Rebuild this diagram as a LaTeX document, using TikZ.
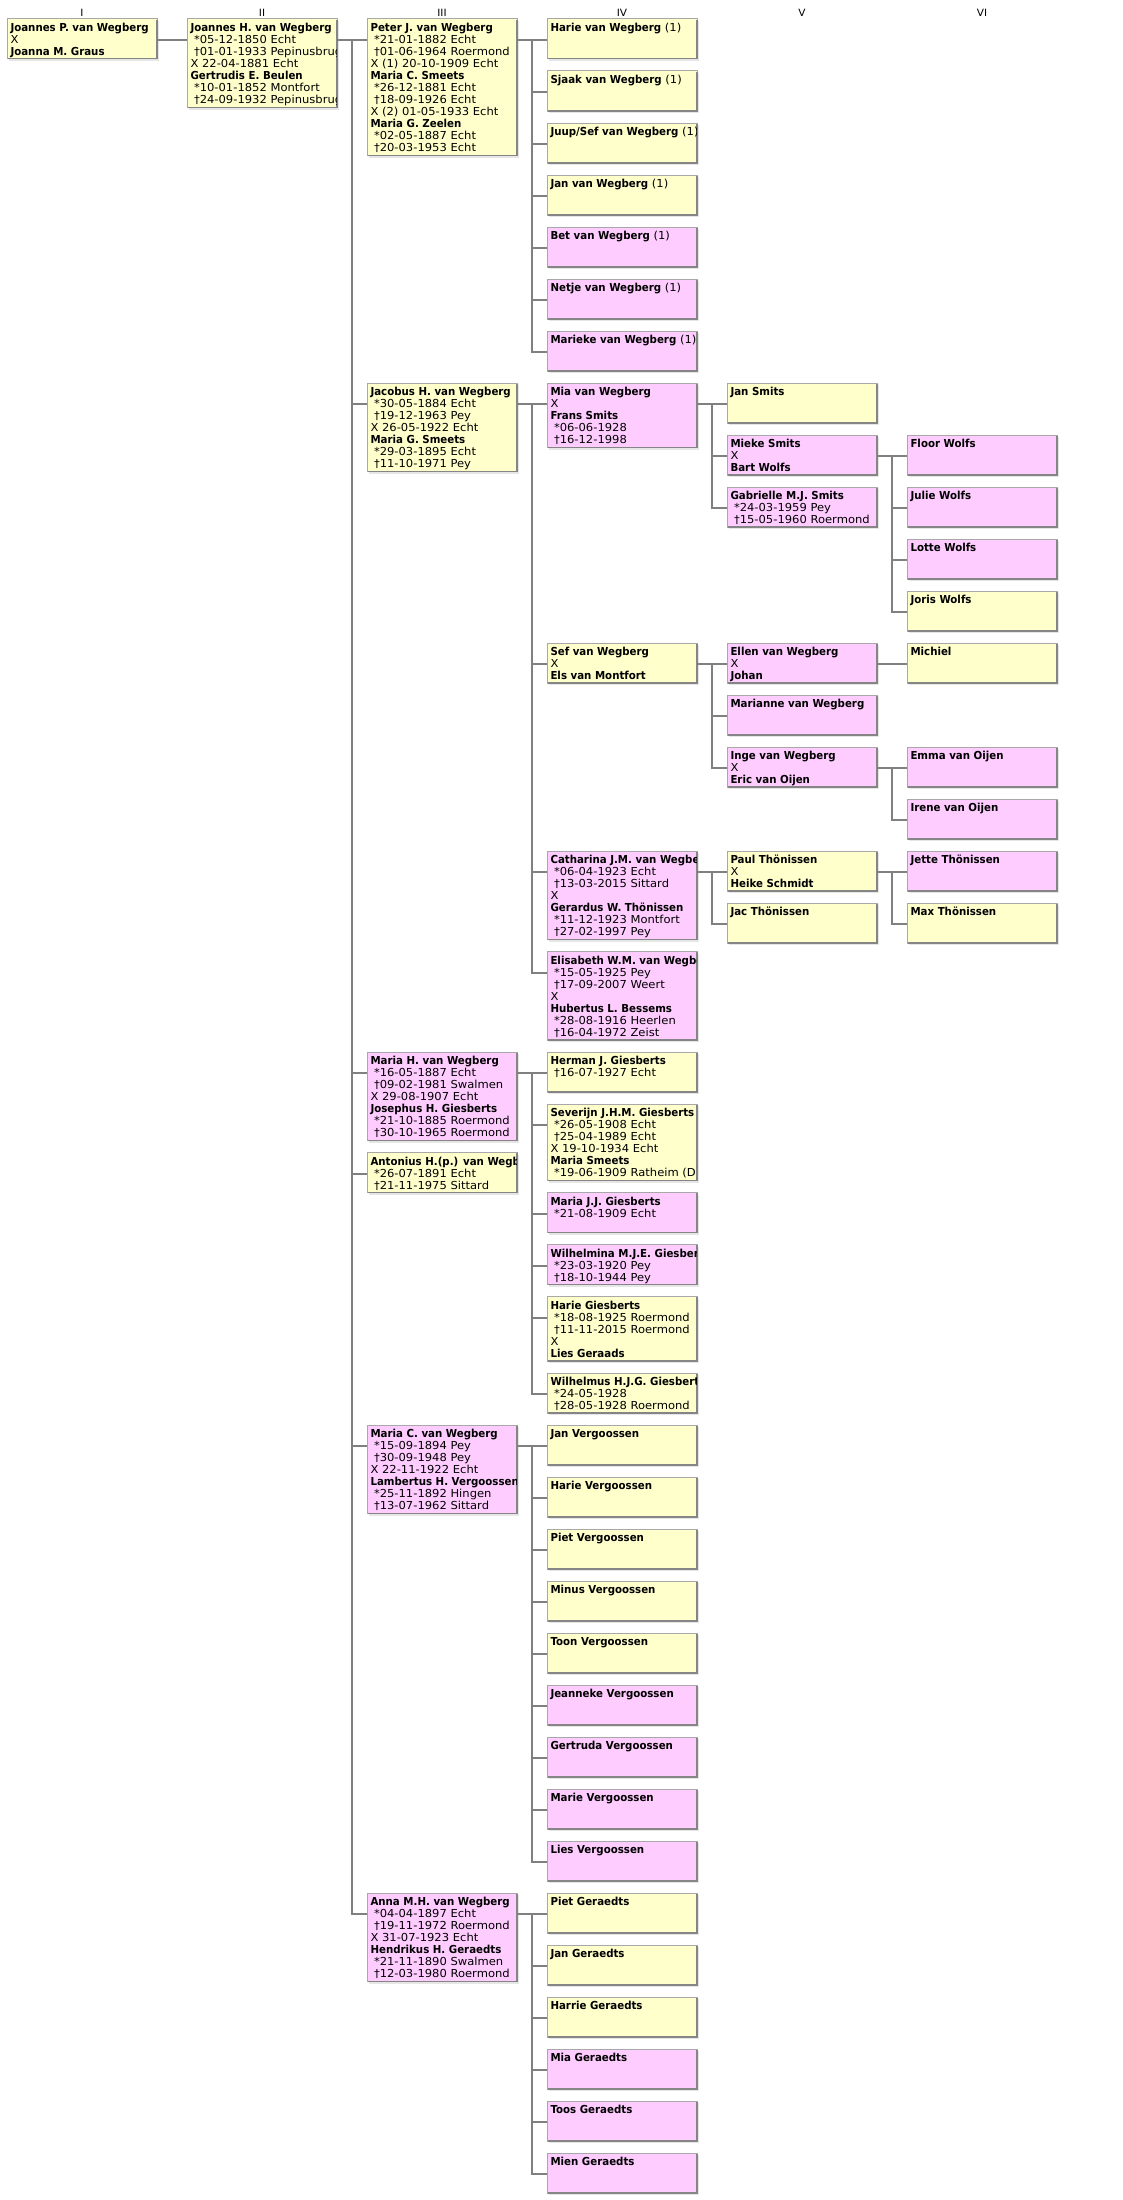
\documentclass[tikz,border=0pt]{standalone}
\usepackage{fontspec}
\setmainfont{DejaVu Sans}[FakeStretch=1.05]
\newfontfamily\bfnt{DejaVu Sans}[FakeStretch=0.93]
\definecolor{yel}{HTML}{FFFFCC}
\definecolor{pnk}{HTML}{FFCCFF}
\definecolor{bord}{HTML}{A8A8A8}
\definecolor{edgec}{HTML}{858585}
\definecolor{shad}{HTML}{E6E6E6}
\definecolor{conc}{HTML}{808080}
\tikzset{
  pbase/.style={rectangle, inner sep=0pt, outer sep=0pt, minimum width=150pt, draw=bord, line width=1pt, anchor=north west},
  conn/.style={draw=conc, line width=2pt},
  hdr/.style={inner sep=0pt, font=\fontsize{10}{10}\selectfont},
  txt/.style={inner sep=0pt, outer sep=0pt, anchor=base west, font=\fontsize{11}{12}\selectfont},
}
\newcommand\Nm[1]{\hbox{\bfnt\bfseries #1}}
\newcommand\Li[1]{\hbox{\kern3.5pt #1}}
\newcommand\Lx[1]{\hbox{#1}}
\newcommand\One{{\normalfont\mdseries\ (1)}}
% #1 name, #2 x, #3 y(top, downward), #4 height, #5 fill, #6 lines
\newcommand\pbx[6]{%
  \fill[shad] (#2+2,#3+2) rectangle (#2+152,#3+#4+2);
  \node[pbase, fill=#5, minimum height=#4pt] (#1) at (#2,#3) {};
  \draw[draw=edgec, line width=1.5pt] (#2+0.75,#3+#4-0.25) -- (#2+149.75,#3+#4-0.25) -- (#2+149.75,#3+0.75);
  \begin{scope}
    \clip (#2,#3) rectangle (#2+149,#3+#4);
    \node[txt] at (#2+3.5,#3+12.5) {\vtop{#6}};
  \end{scope}}
% parent, children
\newcommand\famly[2]{%
  \coordinate (#1-j) at ([xshift=15pt,yshift=-21pt]#1.north east);
  \draw[conn] ([yshift=-21pt]#1.north east) -- (#1-j);
  \foreach \cc in {#2} {\draw[conn] ([yshift=-21pt]\cc.north west) -| (#1-j);}
}
\begin{document}
\begin{tikzpicture}[x=1pt,y=-1pt]
\fill[white] (0,0) rectangle (1123,2200);
\useasboundingbox (0,0) rectangle (1123,2200);
% headers
\node[hdr] (h1) at (82,13) {I};
\node[hdr] (h2) at (262,13) {II};
\node[hdr] (h3) at (442,13) {III};
\node[hdr] (h4) at (622,13) {IV};
\node[hdr] (h5) at (802,13) {V};
\node[hdr] (h6) at (982,13) {VI};
% I, II
\pbx{A}{7}{19}{40}{yel}{\Nm{Joannes P. van Wegberg}\Lx{X}\Nm{Joanna M. Graus}}
\pbx{B}{187}{19}{88.5}{yel}{\Nm{Joannes H. van Wegberg}\Li{*05-12-1850 Echt}\Li{†01-01-1933 Pepinusbrug}\Lx{X 22-04-1881 Echt}\Nm{Gertrudis E. Beulen}\Li{*10-01-1852 Montfort}\Li{†24-09-1932 Pepinusbrug}}
% III
\pbx{C1}{367}{19}{136.5}{yel}{\Nm{Peter J. van Wegberg}\Li{*21-01-1882 Echt}\Li{†01-06-1964 Roermond}\Lx{X (1) 20-10-1909 Echt}\Nm{Maria C. Smeets}\Li{*26-12-1881 Echt}\Li{†18-09-1926 Echt}\Lx{X (2) 01-05-1933 Echt}\Nm{Maria G. Zeelen}\Li{*02-05-1887 Echt}\Li{†20-03-1953 Echt}}
\pbx{C2}{367}{383}{88.5}{yel}{\Nm{Jacobus H. van Wegberg}\Li{*30-05-1884 Echt}\Li{†19-12-1963 Pey}\Lx{X 26-05-1922 Echt}\Nm{Maria G. Smeets}\Li{*29-03-1895 Echt}\Li{†11-10-1971 Pey}}
\pbx{C3}{367}{1052}{88.5}{pnk}{\Nm{Maria H. van Wegberg}\Li{*16-05-1887 Echt}\Li{†09-02-1981 Swalmen}\Lx{X 29-08-1907 Echt}\Nm{Josephus H. Giesberts}\Li{*21-10-1885 Roermond}\Li{†30-10-1965 Roermond}}
\pbx{C4}{367}{1152.5}{40}{yel}{\Nm{Antonius H.(p.) van Wegberg}\Li{*26-07-1891 Echt}\Li{†21-11-1975 Sittard}}
\pbx{C5}{367}{1425}{88.5}{pnk}{\Nm{Maria C. van Wegberg}\Li{*15-09-1894 Pey}\Li{†30-09-1948 Pey}\Lx{X 22-11-1922 Echt}\Nm{Lambertus H. Vergoossen}\Li{*25-11-1892 Hingen}\Li{†13-07-1962 Sittard}}
\pbx{C6}{367}{1893}{88.5}{pnk}{\Nm{Anna M.H. van Wegberg}\Li{*04-04-1897 Echt}\Li{†19-11-1972 Roermond}\Lx{X 31-07-1923 Echt}\Nm{Hendrikus H. Geraedts}\Li{*21-11-1890 Swalmen}\Li{†12-03-1980 Roermond}}
% IV - Peter
\pbx{D1}{547}{19}{40}{yel}{\Nm{Harie van Wegberg\One}}
\pbx{D2}{547}{71}{40}{yel}{\Nm{Sjaak van Wegberg\One}}
\pbx{D3}{547}{123}{40}{yel}{\Nm{Juup/Sef van Wegberg\One}}
\pbx{D4}{547}{175}{40}{yel}{\Nm{Jan van Wegberg\One}}
\pbx{D5}{547}{227}{40}{pnk}{\Nm{Bet van Wegberg\One}}
\pbx{D6}{547}{279}{40}{pnk}{\Nm{Netje van Wegberg\One}}
\pbx{D7}{547}{331}{40}{pnk}{\Nm{Marieke van Wegberg\One}}
% IV - Jacobus
\pbx{E1}{547}{383}{64.5}{pnk}{\Nm{Mia van Wegberg}\Lx{X}\Nm{Frans Smits}\Li{*06-06-1928}\Li{†16-12-1998}}
\pbx{E2}{547}{643}{40}{yel}{\Nm{Sef van Wegberg}\Lx{X}\Nm{Els van Montfort}}
\pbx{E3}{547}{851}{88.5}{pnk}{\Nm{Catharina J.M. van Wegberg}\Li{*06-04-1923 Echt}\Li{†13-03-2015 Sittard}\Lx{X}\Nm{Gerardus W. Thönissen}\Li{*11-12-1923 Montfort}\Li{†27-02-1997 Pey}}
\pbx{E4}{547}{951.5}{88.5}{pnk}{\Nm{Elisabeth W.M. van Wegberg}\Li{*15-05-1925 Pey}\Li{†17-09-2007 Weert}\Lx{X}\Nm{Hubertus L. Bessems}\Li{*28-08-1916 Heerlen}\Li{†16-04-1972 Zeist}}
% V / VI - Mia
\pbx{F1}{727}{383}{40}{yel}{\Nm{Jan Smits}}
\pbx{F2}{727}{435}{40}{pnk}{\Nm{Mieke Smits}\Lx{X}\Nm{Bart Wolfs}}
\pbx{F3}{727}{487}{40}{pnk}{\Nm{Gabrielle M.J. Smits}\Li{*24-03-1959 Pey}\Li{†15-05-1960 Roermond}}
\pbx{G1}{907}{435}{40}{pnk}{\Nm{Floor Wolfs}}
\pbx{G2}{907}{487}{40}{pnk}{\Nm{Julie Wolfs}}
\pbx{G3}{907}{539}{40}{pnk}{\Nm{Lotte Wolfs}}
\pbx{G4}{907}{591}{40}{yel}{\Nm{Joris Wolfs}}
% V / VI - Sef
\pbx{F4}{727}{643}{40}{pnk}{\Nm{Ellen van Wegberg}\Lx{X}\Nm{Johan}}
\pbx{F5}{727}{695}{40}{pnk}{\Nm{Marianne van Wegberg}}
\pbx{F6}{727}{747}{40}{pnk}{\Nm{Inge van Wegberg}\Lx{X}\Nm{Eric van Oijen}}
\pbx{G5}{907}{643}{40}{yel}{\Nm{Michiel}}
\pbx{G6}{907}{747}{40}{pnk}{\Nm{Emma van Oijen}}
\pbx{G7}{907}{799}{40}{pnk}{\Nm{Irene van Oijen}}
% V / VI - Catharina
\pbx{F7}{727}{851}{40}{yel}{\Nm{Paul Thönissen}\Lx{X}\Nm{Heike Schmidt}}
\pbx{F8}{727}{903}{40}{yel}{\Nm{Jac Thönissen}}
\pbx{G8}{907}{851}{40}{pnk}{\Nm{Jette Thönissen}}
\pbx{G9}{907}{903}{40}{yel}{\Nm{Max Thönissen}}
% IV - Maria H.
\pbx{E5}{547}{1052}{40}{yel}{\Nm{Herman J. Giesberts}\Li{†16-07-1927 Echt}}
\pbx{E6}{547}{1104}{76.5}{yel}{\Nm{Severijn J.H.M. Giesberts}\Li{*26-05-1908 Echt}\Li{†25-04-1989 Echt}\Lx{X 19-10-1934 Echt}\Nm{Maria Smeets}\Li{*19-06-1909 Ratheim (D)}}
\pbx{E7}{547}{1192.5}{40}{pnk}{\Nm{Maria J.J. Giesberts}\Li{*21-08-1909 Echt}}
\pbx{E8}{547}{1244.5}{40}{pnk}{\Nm{Wilhelmina M.J.E. Giesberts}\Li{*23-03-1920 Pey}\Li{†18-10-1944 Pey}}
\pbx{E9}{547}{1296.5}{64.5}{yel}{\Nm{Harie Giesberts}\Li{*18-08-1925 Roermond}\Li{†11-11-2015 Roermond}\Lx{X}\Nm{Lies Geraads}}
\pbx{E10}{547}{1373}{40}{yel}{\Nm{Wilhelmus H.J.G. Giesberts}\Li{*24-05-1928}\Li{†28-05-1928 Roermond}}
% IV - Maria C.
\pbx{E11}{547}{1425}{40}{yel}{\Nm{Jan Vergoossen}}
\pbx{E12}{547}{1477}{40}{yel}{\Nm{Harie Vergoossen}}
\pbx{E13}{547}{1529}{40}{yel}{\Nm{Piet Vergoossen}}
\pbx{E14}{547}{1581}{40}{yel}{\Nm{Minus Vergoossen}}
\pbx{E15}{547}{1633}{40}{yel}{\Nm{Toon Vergoossen}}
\pbx{E16}{547}{1685}{40}{pnk}{\Nm{Jeanneke Vergoossen}}
\pbx{E17}{547}{1737}{40}{pnk}{\Nm{Gertruda Vergoossen}}
\pbx{E18}{547}{1789}{40}{pnk}{\Nm{Marie Vergoossen}}
\pbx{E19}{547}{1841}{40}{pnk}{\Nm{Lies Vergoossen}}
% IV - Anna
\pbx{E20}{547}{1893}{40}{yel}{\Nm{Piet Geraedts}}
\pbx{E21}{547}{1945}{40}{yel}{\Nm{Jan Geraedts}}
\pbx{E22}{547}{1997}{40}{yel}{\Nm{Harrie Geraedts}}
\pbx{E23}{547}{2049}{40}{pnk}{\Nm{Mia Geraedts}}
\pbx{E24}{547}{2101}{40}{pnk}{\Nm{Toos Geraedts}}
\pbx{E25}{547}{2153}{40}{pnk}{\Nm{Mien Geraedts}}
% connectors
\draw[conn] ([yshift=-21pt]A.north east) -- ([yshift=-21pt]B.north west);
\famly{B}{C1,C2,C3,C4,C5,C6}
\famly{C1}{D1,D2,D3,D4,D5,D6,D7}
\famly{C2}{E1,E2,E3,E4}
\famly{E1}{F1,F2,F3}
\famly{F2}{G1,G2,G3,G4}
\famly{E2}{F4,F5,F6}
\famly{F4}{G5}
\famly{F6}{G6,G7}
\famly{E3}{F7,F8}
\famly{F7}{G8,G9}
\famly{C3}{E5,E6,E7,E8,E9,E10}
\famly{C5}{E11,E12,E13,E14,E15,E16,E17,E18,E19}
\famly{C6}{E20,E21,E22,E23,E24,E25}
\end{tikzpicture}
\end{document}
